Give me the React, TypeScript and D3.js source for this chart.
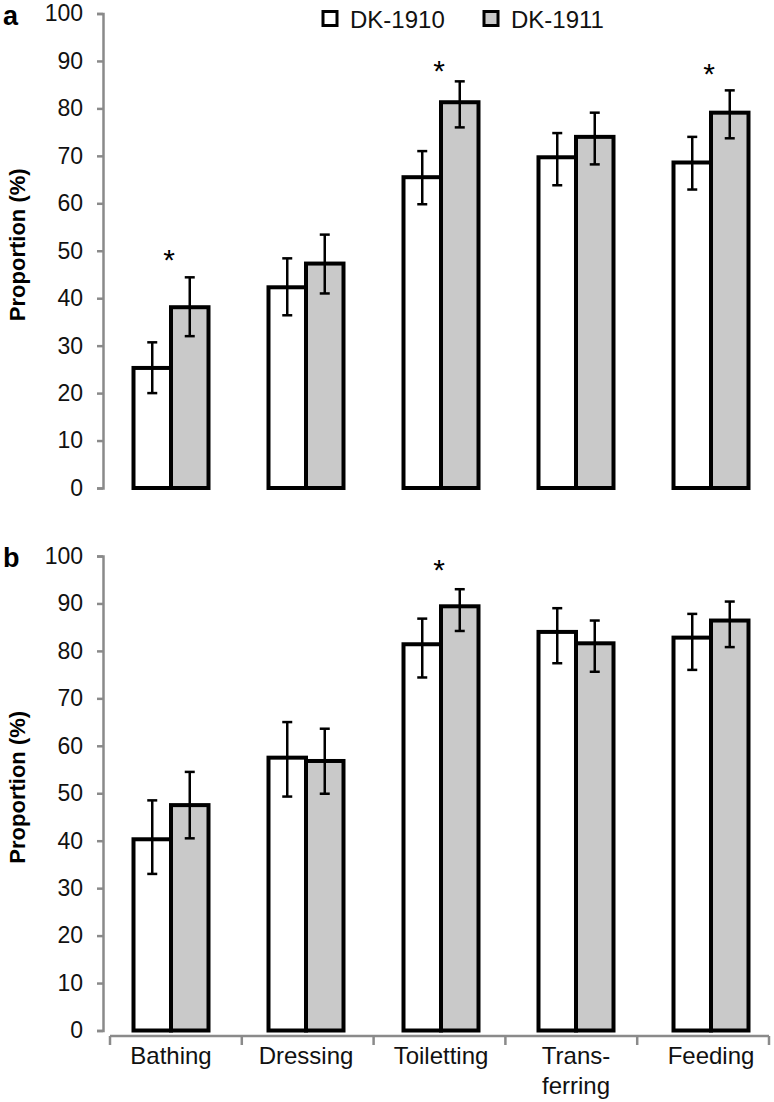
import React, { useEffect, useRef } from "react";
import * as d3 from "d3";

const categories = ["Bathing", "Dressing", "Toiletting", "Transferring", "Feeding"];
const categoryLines = [["Bathing"], ["Dressing"], ["Toiletting"], ["Trans-", "ferring"], ["Feeding"]];
const seriesNames = ["DK-1910", "DK-1911"];
const seriesFill = ["#ffffff", "#c9c9c9"];
const yTicks = [0, 10, 20, 30, 40, 50, 60, 70, 80, 90, 100];

// Panel a
const a1910 = [25.3, 42.3, 65.5, 69.7, 68.6];
const a1910Lo = [20.0, 36.4, 59.8, 63.8, 62.9];
const a1910Hi = [30.7, 48.4, 71.0, 74.8, 74.0];
const a1911 = [38.1, 47.3, 81.3, 74.0, 79.1];
const a1911Lo = [32.0, 41.0, 76.0, 68.2, 73.7];
const a1911Hi = [44.4, 53.4, 85.7, 79.1, 83.8];
const aStars: (number | null)[] = [49.6, null, 89.4, null, 88.8];

// Panel b
const b1910 = [40.3, 57.5, 81.4, 84.0, 82.8];
const b1910Lo = [33.0, 49.3, 74.4, 77.4, 76.0];
const b1910Hi = [48.5, 65.0, 86.8, 89.0, 87.8];
const b1911 = [47.5, 56.8, 89.4, 81.6, 86.4];
const b1911Lo = [40.5, 49.9, 84.2, 75.6, 80.8];
const b1911Hi = [54.5, 63.6, 93.0, 86.4, 90.4];
const bStars: (number | null)[] = [null, null, 98.5, null, null];

const FONT = "'Liberation Sans', Arial, sans-serif";

export default function App() {
  const ref = useRef<SVGSVGElement>(null);

  useEffect(() => {
    const svg = d3.select(ref.current);
    svg.selectAll("*").remove();

    const x = d3.scaleBand<string>().domain(categories).range([103.5, 778.5]);
    const xAxisScale = d3.scaleBand<string>().domain(categories).range([110, 769]);
    const groupW = 75;
    const sub = d3.scaleBand<string>().domain(seriesNames).range([0, groupW]);

    const panels = [
      {
        label: "a",
        y: d3.scaleLinear().domain([0, 100]).range([488, 13.5]),
        vals: [a1910, a1911],
        lo: [a1910Lo, a1911Lo],
        hi: [a1910Hi, a1911Hi],
        stars: aStars,
        xAxis: false,
      },
      {
        label: "b",
        y: d3.scaleLinear().domain([0, 100]).range([1030.5, 556]),
        vals: [b1910, b1911],
        lo: [b1910Lo, b1911Lo],
        hi: [b1910Hi, b1911Hi],
        stars: bStars,
        xAxis: true,
      },
    ];

    panels.forEach((p) => {
      const g = svg.append("g");
      const y = p.y;

      // Panel letter
      g.append("text")
        .attr("x", 3)
        .attr("y", y(100) + 11)
        .attr("font-family", FONT)
        .attr("font-weight", "bold")
        .attr("font-size", 27)
        .attr("fill", "#000")
        .text(p.label);

      // Y axis
      const ax = g
        .append("g")
        .attr("transform", "translate(103,0)")
        .call(
          d3
            .axisLeft(y)
            .tickValues(yTicks)
            .tickSize(6)
            .tickPadding(14)
            .tickFormat(d3.format("d"))
        );
      ax.select(".domain").attr("stroke", "#8a8a8a").attr("stroke-width", 2.5);
      ax.selectAll(".tick line").attr("stroke", "#8a8a8a").attr("stroke-width", 2.5);
      ax.selectAll(".tick text")
        .attr("font-family", FONT)
        .attr("font-size", 23)
        .attr("fill", "#111");

      // Y label
      const yc = (y(0) + y(100)) / 2 - 6;
      g.append("text")
        .attr("transform", `translate(25,${yc}) rotate(-90)`)
        .attr("text-anchor", "middle")
        .attr("font-family", FONT)
        .attr("font-weight", "bold")
        .attr("font-size", 22)
        .attr("fill", "#000")
        .text("Proportion (%)");

      // Bars
      categories.forEach((c, i) => {
        const cx = (x(c) as number) + x.bandwidth() / 2;
        const gx = cx - groupW / 2;
        seriesNames.forEach((s, si) => {
          const bx = gx + (sub(s) as number);
          const v = p.vals[si][i];
          g.append("rect")
            .attr("x", bx)
            .attr("y", y(v))
            .attr("width", sub.bandwidth())
            .attr("height", y(0) - y(v))
            .attr("fill", seriesFill[si])
            .attr("stroke", "#000")
            .attr("stroke-width", 4);
        });
        seriesNames.forEach((s, si) => {
          const ex = gx + (sub(s) as number) + sub.bandwidth() / 2;
          const lo = p.lo[si][i];
          const hi = p.hi[si][i];
          const eg = g.append("g").attr("stroke", "#000").attr("stroke-width", 2.5);
          eg.append("line").attr("x1", ex).attr("x2", ex).attr("y1", y(lo)).attr("y2", y(hi));
          eg.append("line").attr("x1", ex - 5).attr("x2", ex + 5).attr("y1", y(lo)).attr("y2", y(lo));
          eg.append("line").attr("x1", ex - 5).attr("x2", ex + 5).attr("y1", y(hi)).attr("y2", y(hi));
        });
        const st = p.stars[i];
        if (st !== null) {
          g.append("text")
            .attr("x", cx - 2)
            .attr("y", y(st) + 17)
            .attr("text-anchor", "middle")
            .attr("font-family", FONT)
            .attr("font-size", 30)
            .attr("fill", "#000")
            .text("*");
        }
      });

      if (p.xAxis) {
        const ay = 1036;
        const r = xAxisScale.range();
        const xg = g.append("g").attr("stroke", "#8a8a8a").attr("stroke-width", 2.5);
        xg.append("line").attr("x1", r[0]).attr("x2", r[1]).attr("y1", ay).attr("y2", ay);
        const bounds = categories.map((c) => xAxisScale(c) as number).concat([r[1]]);
        bounds.forEach((bx) => {
          xg.append("line").attr("x1", bx).attr("x2", bx).attr("y1", ay).attr("y2", ay + 9);
        });
        categories.forEach((c, i) => {
          const cx = (x(c) as number) + x.bandwidth() / 2;
          categoryLines[i].forEach((line, li) => {
            g.append("text")
              .attr("x", cx)
              .attr("y", 1064 + li * 30)
              .attr("text-anchor", "middle")
              .attr("font-family", FONT)
              .attr("font-size", 24)
              .attr("fill", "#111")
              .text(line);
          });
        });
      }
    });

    // Legend
    const legendX = [323, 484];
    const lg = svg.append("g");
    seriesNames.forEach((s, si) => {
      lg.append("rect")
        .attr("x", legendX[si])
        .attr("y", 11.5)
        .attr("width", 14)
        .attr("height", 14)
        .attr("fill", seriesFill[si])
        .attr("stroke", "#000")
        .attr("stroke-width", 3);
      lg.append("text")
        .attr("x", legendX[si] + 27)
        .attr("y", 28)
        .attr("font-family", FONT)
        .attr("font-size", 24)
        .attr("fill", "#111")
        .text(s);
    });
  }, []);

  return (
    <svg
      ref={ref}
      width={774}
      height={1102}
      style={{ position: "absolute", left: 0, top: 0, background: "#fff" }}
    />
  );
}
